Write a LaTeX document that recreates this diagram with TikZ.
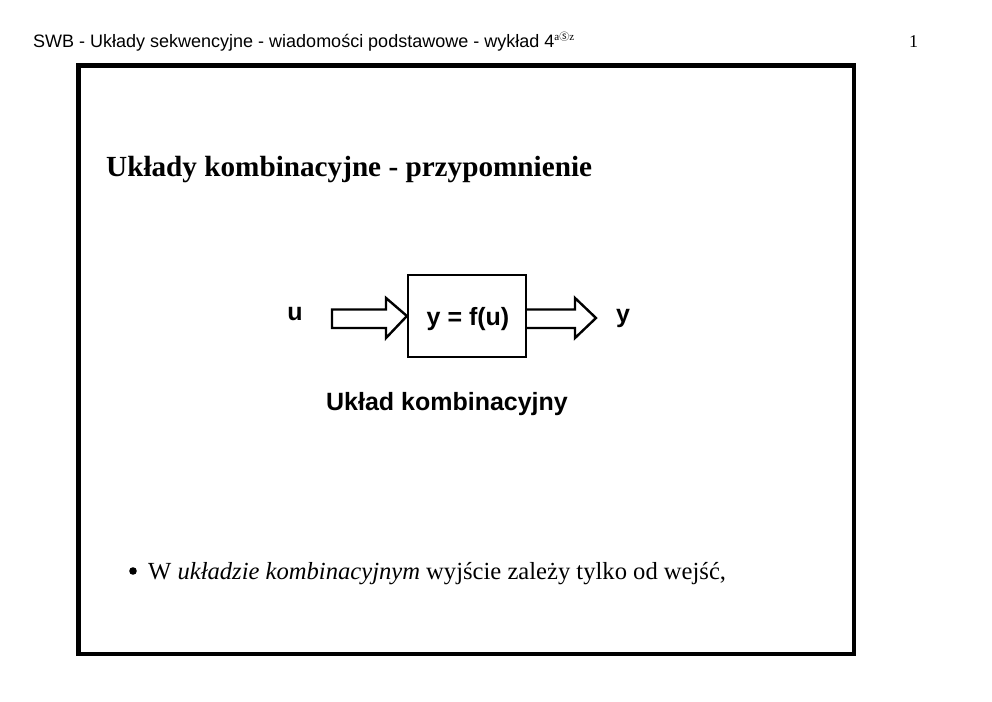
\documentclass[tikz,border=0pt]{standalone}
\usepackage{fontspec}
\setmainfont{Liberation Serif}
\newfontfamily\arialf{Liberation Sans}
\newfontfamily\cjkf{Noto Sans CJK SC}
\begin{document}
\begin{tikzpicture}[x=1pt,y=-1pt,
  frame/.style={draw=black,line width=4.5pt},
  blk/.style={draw=black,line width=2.2pt},
  fatarrow/.style={draw=black,line width=2.4pt,line join=miter,fill=white},
  sanslabel/.style={font=\arialf\bfseries\fontsize{25}{28}\selectfont,inner sep=0pt},
  txt/.style={inner sep=0pt,anchor=base west}]
\useasboundingbox (0,0) rectangle (992,701);
% header
\node[txt,font=\arialf\fontsize{18}{20}\selectfont] (hdr) at (33,48) {SWB - Układy sekwencyjne - wiadomości podstawowe - wykład 4\raisebox{7pt}{\fontsize{11}{12}\selectfont\rmfamily a{\cjkf\fontsize{10}{10}\selectfont Ⓢ}z}};
\node[txt,font=\fontsize{18}{20}\selectfont] (pg) at (909,48) {1};
% frame
\draw[frame] (78.5,65.5) rectangle (854,654);
% title
\node[txt,font=\bfseries\fontsize{29.2}{32}\selectfont] (title) at (106,176) {Układy kombinacyjne - przypomnienie};
% block
\node[blk,minimum width=118pt,minimum height=82pt,inner sep=0pt] (box) at (467,316) {};
\node[sanslabel] (fu) at (468,319) {y = f(u)};
\coordinate (boxW) at (box.west);
\coordinate (boxE) at (box.east);
% input arrow
\draw[fatarrow] (332,309.5) -- (386,309.5) -- (386,298) -- (boxW) -- (386,338) -- (386,328) -- (332,328) -- cycle;
% output arrow
\draw[fatarrow] (boxE |- 0,309.5) -- (575,309.5) -- (575,298) -- (596,318) -- (575,338) -- (575,328) -- (boxE |- 0,328);
\node[sanslabel] (u) at (295,314) {u};
\node[sanslabel] (y) at (623,318) {y};
\node[sanslabel] (cap) at (447,404) {Układ kombinacyjny};
% bullet
\fill (133,571) circle (3.8pt);
\node[txt,font=\fontsize{24.6}{28}\selectfont] (bul) at (148,579) {W \textit{układzie kombinacyjnym} wyjście zależy tylko od wejść,};
\end{tikzpicture}
\end{document}
